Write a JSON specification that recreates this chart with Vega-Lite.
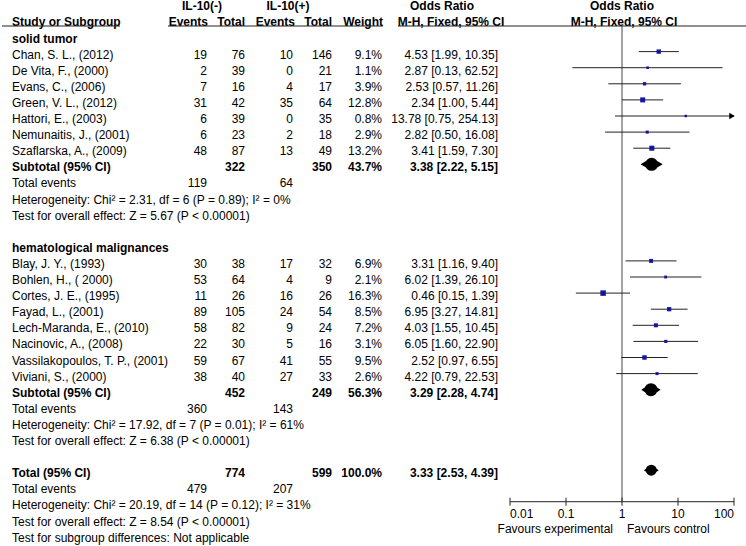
{
  "$schema": "https://vega.github.io/schema/vega-lite/v6.json",
  "width": 746,
  "height": 546,
  "autosize": {"type": "none"},
  "padding": 0,
  "background": "white",
  "config": {"view": {"stroke": null}},
  "datasets": {
    "rows": [
      {"row": 0, "label": "solid tumor", "kind": "group"},
      {"row": 1, "label": "Chan, S. L., (2012)", "kind": "study", "e1": 19, "n1": 76, "e2": 10, "n2": 146, "w": 0.091, "ort": "4.53 [1.99, 10.35]", "or": 4.53, "lo": 1.99, "hi": 10.35},
      {"row": 2, "label": "De Vita, F., (2000)", "kind": "study", "e1": 2, "n1": 39, "e2": 0, "n2": 21, "w": 0.011, "ort": "2.87 [0.13, 62.52]", "or": 2.87, "lo": 0.13, "hi": 62.52},
      {"row": 3, "label": "Evans, C., (2006)", "kind": "study", "e1": 7, "n1": 16, "e2": 4, "n2": 17, "w": 0.039, "ort": "2.53 [0.57, 11.26]", "or": 2.53, "lo": 0.57, "hi": 11.26},
      {"row": 4, "label": "Green, V. L., (2012)", "kind": "study", "e1": 31, "n1": 42, "e2": 35, "n2": 64, "w": 0.128, "ort": "2.34 [1.00, 5.44]", "or": 2.34, "lo": 1.0, "hi": 5.44},
      {"row": 5, "label": "Hattori, E., (2003)", "kind": "study", "e1": 6, "n1": 39, "e2": 0, "n2": 35, "w": 0.008, "ort": "13.78 [0.75, 254.13]", "or": 13.78, "lo": 0.75, "hi": 254.13},
      {"row": 6, "label": "Nemunaitis, J., (2001)", "kind": "study", "e1": 6, "n1": 23, "e2": 2, "n2": 18, "w": 0.029, "ort": "2.82 [0.50, 16.08]", "or": 2.82, "lo": 0.5, "hi": 16.08},
      {"row": 7, "label": "Szaflarska, A., (2009)", "kind": "study", "e1": 48, "n1": 87, "e2": 13, "n2": 49, "w": 0.132, "ort": "3.41 [1.59, 7.30]", "or": 3.41, "lo": 1.59, "hi": 7.3},
      {"row": 8, "label": "Subtotal (95% CI)", "kind": "subtotal", "n1": 322, "n2": 350, "w": 0.437, "ort": "3.38 [2.22, 5.15]", "or": 3.38, "lo": 2.22, "hi": 5.15},
      {"row": 9, "label": "Total events", "kind": "events", "e1": 119, "e2": 64},
      {"row": 10, "label": "Heterogeneity: Chi² = 2.31, df = 6 (P = 0.89); I² = 0%", "kind": "note"},
      {"row": 11, "label": "Test for overall effect: Z = 5.67 (P < 0.00001)", "kind": "note"},
      {"row": 13, "label": "hematological malignances", "kind": "group"},
      {"row": 14, "label": "Blay, J. Y., (1993)", "kind": "study", "e1": 30, "n1": 38, "e2": 17, "n2": 32, "w": 0.069, "ort": "3.31 [1.16, 9.40]", "or": 3.31, "lo": 1.16, "hi": 9.4},
      {"row": 15, "label": "Bohlen, H., ( 2000)", "kind": "study", "e1": 53, "n1": 64, "e2": 4, "n2": 9, "w": 0.021, "ort": "6.02 [1.39, 26.10]", "or": 6.02, "lo": 1.39, "hi": 26.1},
      {"row": 16, "label": "Cortes, J. E., (1995)", "kind": "study", "e1": 11, "n1": 26, "e2": 16, "n2": 26, "w": 0.163, "ort": "0.46 [0.15, 1.39]", "or": 0.46, "lo": 0.15, "hi": 1.39},
      {"row": 17, "label": "Fayad, L., (2001)", "kind": "study", "e1": 89, "n1": 105, "e2": 24, "n2": 54, "w": 0.085, "ort": "6.95 [3.27, 14.81]", "or": 6.95, "lo": 3.27, "hi": 14.81},
      {"row": 18, "label": "Lech-Maranda, E., (2010)", "kind": "study", "e1": 58, "n1": 82, "e2": 9, "n2": 24, "w": 0.072, "ort": "4.03 [1.55, 10.45]", "or": 4.03, "lo": 1.55, "hi": 10.45},
      {"row": 19, "label": "Nacinovic, A., (2008)", "kind": "study", "e1": 22, "n1": 30, "e2": 5, "n2": 16, "w": 0.031, "ort": "6.05 [1.60, 22.90]", "or": 6.05, "lo": 1.6, "hi": 22.9},
      {"row": 20, "label": "Vassilakopoulos, T. P., (2001)", "kind": "study", "e1": 59, "n1": 67, "e2": 41, "n2": 55, "w": 0.095, "ort": "2.52 [0.97, 6.55]", "or": 2.52, "lo": 0.97, "hi": 6.55},
      {"row": 21, "label": "Viviani, S., (2000)", "kind": "study", "e1": 38, "n1": 40, "e2": 27, "n2": 33, "w": 0.026, "ort": "4.22 [0.79, 22.53]", "or": 4.22, "lo": 0.79, "hi": 22.53},
      {"row": 22, "label": "Subtotal (95% CI)", "kind": "subtotal", "n1": 452, "n2": 249, "w": 0.563, "ort": "3.29 [2.28, 4.74]", "or": 3.29, "lo": 2.28, "hi": 4.74},
      {"row": 23, "label": "Total events", "kind": "events", "e1": 360, "e2": 143},
      {"row": 24, "label": "Heterogeneity: Chi² = 17.92, df = 7 (P = 0.01); I² = 61%", "kind": "note"},
      {"row": 25, "label": "Test for overall effect: Z = 6.38 (P < 0.00001)", "kind": "note"},
      {"row": 27, "label": "Total (95% CI)", "kind": "total", "n1": 774, "n2": 599, "w": 1.0, "ort": "3.33 [2.53, 4.39]", "or": 3.33, "lo": 2.53, "hi": 4.39},
      {"row": 28, "label": "Total events", "kind": "events", "e1": 479, "e2": 207},
      {"row": 29, "label": "Heterogeneity: Chi² = 20.19, df = 14 (P = 0.12); I² = 31%", "kind": "note"},
      {"row": 30, "label": "Test for overall effect: Z = 8.54 (P < 0.00001)", "kind": "note"},
      {"row": 31, "label": "Test for subgroup differences: Not applicable", "kind": "note"}
    ],
    "ticks": [
      {"v": 0.01, "lab": "0.01"},
      {"v": 0.1, "lab": "0.1"},
      {"v": 1, "lab": "1"},
      {"v": 10, "lab": "10"},
      {"v": 100, "lab": "100"}
    ],
    "one": [{}]
  },
  "resolve": {"scale": {"x": "independent", "size": "independent"}},
  "layer": [
    {
      "layer": [
        {"data": {"name": "rows"}, "transform": [{"filter": "indexof(['group','subtotal','total'], datum.kind) < 0"}],
         "mark": {"type": "text", "font": "Liberation Sans", "fontSize": 12, "baseline": "middle", "dy": 3, "align": "left", "color": "#000"},
         "encoding": {"x": {"datum": 12, "type": "quantitative", "scale": {"domain": [0, 746], "range": [0, 746], "nice": false, "zero": false}, "axis": null},
                      "y": {"field": "row", "type": "quantitative", "scale": {"domain": [-2.205, 31.708], "reverse": true, "nice": false, "zero": false}, "axis": null},
                      "text": {"field": "label"}}},
        {"data": {"name": "rows"}, "transform": [{"filter": "indexof(['group','subtotal','total'], datum.kind) >= 0"}],
         "mark": {"type": "text", "font": "Liberation Sans", "fontSize": 12, "fontWeight": "bold", "baseline": "middle", "dy": 3, "align": "left", "color": "#000"},
         "encoding": {"x": {"datum": 12, "type": "quantitative"}, "y": {"field": "row", "type": "quantitative"}, "text": {"field": "label"}}},
        {"data": {"name": "rows"}, "transform": [{"filter": "isValid(datum.e1)"}],
         "mark": {"type": "text", "font": "Liberation Sans", "fontSize": 12, "baseline": "middle", "dy": 3, "align": "right", "color": "#000"},
         "encoding": {"x": {"datum": 207, "type": "quantitative"}, "y": {"field": "row", "type": "quantitative"}, "text": {"field": "e1"}}},
        {"data": {"name": "rows"}, "transform": [{"filter": "isValid(datum.e2)"}],
         "mark": {"type": "text", "font": "Liberation Sans", "fontSize": 12, "baseline": "middle", "dy": 3, "align": "right", "color": "#000"},
         "encoding": {"x": {"datum": 293, "type": "quantitative"}, "y": {"field": "row", "type": "quantitative"}, "text": {"field": "e2"}}},
        {"data": {"name": "rows"}, "transform": [{"filter": "datum.kind == 'study'"}],
         "mark": {"type": "text", "font": "Liberation Sans", "fontSize": 12, "baseline": "middle", "dy": 3, "align": "right", "color": "#000"},
         "encoding": {"x": {"datum": 245, "type": "quantitative"}, "y": {"field": "row", "type": "quantitative"}, "text": {"field": "n1"}}},
        {"data": {"name": "rows"}, "transform": [{"filter": "datum.kind == 'subtotal' || datum.kind == 'total'"}],
         "mark": {"type": "text", "font": "Liberation Sans", "fontSize": 12, "fontWeight": "bold", "baseline": "middle", "dy": 3, "align": "right", "color": "#000"},
         "encoding": {"x": {"datum": 245, "type": "quantitative"}, "y": {"field": "row", "type": "quantitative"}, "text": {"field": "n1"}}},
        {"data": {"name": "rows"}, "transform": [{"filter": "datum.kind == 'study'"}],
         "mark": {"type": "text", "font": "Liberation Sans", "fontSize": 12, "baseline": "middle", "dy": 3, "align": "right", "color": "#000"},
         "encoding": {"x": {"datum": 332, "type": "quantitative"}, "y": {"field": "row", "type": "quantitative"}, "text": {"field": "n2"}}},
        {"data": {"name": "rows"}, "transform": [{"filter": "datum.kind == 'subtotal' || datum.kind == 'total'"}],
         "mark": {"type": "text", "font": "Liberation Sans", "fontSize": 12, "fontWeight": "bold", "baseline": "middle", "dy": 3, "align": "right", "color": "#000"},
         "encoding": {"x": {"datum": 332, "type": "quantitative"}, "y": {"field": "row", "type": "quantitative"}, "text": {"field": "n2"}}},
        {"data": {"name": "rows"}, "transform": [{"filter": "datum.kind == 'study'"}],
         "mark": {"type": "text", "font": "Liberation Sans", "fontSize": 12, "baseline": "middle", "dy": 3, "align": "right", "color": "#000"},
         "encoding": {"x": {"datum": 382, "type": "quantitative"}, "y": {"field": "row", "type": "quantitative"}, "text": {"field": "w", "type": "quantitative", "format": ".1%"}}},
        {"data": {"name": "rows"}, "transform": [{"filter": "datum.kind == 'subtotal' || datum.kind == 'total'"}],
         "mark": {"type": "text", "font": "Liberation Sans", "fontSize": 12, "fontWeight": "bold", "baseline": "middle", "dy": 3, "align": "right", "color": "#000"},
         "encoding": {"x": {"datum": 382, "type": "quantitative"}, "y": {"field": "row", "type": "quantitative"}, "text": {"field": "w", "type": "quantitative", "format": ".1%"}}},
        {"data": {"name": "rows"}, "transform": [{"filter": "datum.kind == 'study'"}],
         "mark": {"type": "text", "font": "Liberation Sans", "fontSize": 12, "baseline": "middle", "dy": 3, "align": "right", "color": "#000"},
         "encoding": {"x": {"datum": 498, "type": "quantitative"}, "y": {"field": "row", "type": "quantitative"}, "text": {"field": "ort"}}},
        {"data": {"name": "rows"}, "transform": [{"filter": "datum.kind == 'subtotal' || datum.kind == 'total'"}],
         "mark": {"type": "text", "font": "Liberation Sans", "fontSize": 12, "fontWeight": "bold", "baseline": "middle", "dy": 3, "align": "right", "color": "#000"},
         "encoding": {"x": {"datum": 498, "type": "quantitative"}, "y": {"field": "row", "type": "quantitative"}, "text": {"field": "ort"}}},
        {"data": {"name": "one"}, "mark": {"type": "text", "font": "Liberation Sans", "fontSize": 12, "fontWeight": "bold", "baseline": "middle", "dy": 3, "align": "center", "color": "#000", "text": "IL-10(-)"},
         "encoding": {"x": {"datum": 202, "type": "quantitative"}, "y": {"datum": -2, "type": "quantitative"}}},
        {"data": {"name": "one"}, "mark": {"type": "text", "font": "Liberation Sans", "fontSize": 12, "fontWeight": "bold", "baseline": "middle", "dy": 3, "align": "center", "color": "#000", "text": "IL-10(+)"},
         "encoding": {"x": {"datum": 288, "type": "quantitative"}, "y": {"datum": -2, "type": "quantitative"}}},
        {"data": {"name": "one"}, "mark": {"type": "text", "font": "Liberation Sans", "fontSize": 12, "fontWeight": "bold", "baseline": "middle", "dy": 3, "align": "center", "color": "#000", "text": "Odds Ratio"},
         "encoding": {"x": {"datum": 442, "type": "quantitative"}, "y": {"datum": -2, "type": "quantitative"}}},
        {"data": {"name": "one"}, "mark": {"type": "text", "font": "Liberation Sans", "fontSize": 12, "fontWeight": "bold", "baseline": "middle", "dy": 3, "align": "center", "color": "#000", "text": "Odds Ratio"},
         "encoding": {"x": {"datum": 622, "type": "quantitative"}, "y": {"datum": -2, "type": "quantitative"}}},
        {"data": {"name": "one"}, "mark": {"type": "text", "font": "Liberation Sans", "fontSize": 12, "fontWeight": "bold", "baseline": "middle", "dy": 3, "align": "left", "color": "#000", "text": "Study or Subgroup"},
         "encoding": {"x": {"datum": 12, "type": "quantitative"}, "y": {"datum": -1, "type": "quantitative"}}},
        {"data": {"name": "one"}, "mark": {"type": "text", "font": "Liberation Sans", "fontSize": 12, "fontWeight": "bold", "baseline": "middle", "dy": 3, "align": "right", "color": "#000", "text": "Events"},
         "encoding": {"x": {"datum": 208, "type": "quantitative"}, "y": {"datum": -1, "type": "quantitative"}}},
        {"data": {"name": "one"}, "mark": {"type": "text", "font": "Liberation Sans", "fontSize": 12, "fontWeight": "bold", "baseline": "middle", "dy": 3, "align": "right", "color": "#000", "text": "Total"},
         "encoding": {"x": {"datum": 245, "type": "quantitative"}, "y": {"datum": -1, "type": "quantitative"}}},
        {"data": {"name": "one"}, "mark": {"type": "text", "font": "Liberation Sans", "fontSize": 12, "fontWeight": "bold", "baseline": "middle", "dy": 3, "align": "right", "color": "#000", "text": "Events"},
         "encoding": {"x": {"datum": 295, "type": "quantitative"}, "y": {"datum": -1, "type": "quantitative"}}},
        {"data": {"name": "one"}, "mark": {"type": "text", "font": "Liberation Sans", "fontSize": 12, "fontWeight": "bold", "baseline": "middle", "dy": 3, "align": "right", "color": "#000", "text": "Total"},
         "encoding": {"x": {"datum": 332, "type": "quantitative"}, "y": {"datum": -1, "type": "quantitative"}}},
        {"data": {"name": "one"}, "mark": {"type": "text", "font": "Liberation Sans", "fontSize": 12, "fontWeight": "bold", "baseline": "middle", "dy": 3, "align": "right", "color": "#000", "text": "Weight"},
         "encoding": {"x": {"datum": 383, "type": "quantitative"}, "y": {"datum": -1, "type": "quantitative"}}},
        {"data": {"name": "one"}, "mark": {"type": "text", "font": "Liberation Sans", "fontSize": 12, "fontWeight": "bold", "baseline": "middle", "dy": 3, "align": "center", "color": "#000", "text": "M-H, Fixed, 95% CI"},
         "encoding": {"x": {"datum": 451, "type": "quantitative"}, "y": {"datum": -1, "type": "quantitative"}}},
        {"data": {"name": "one"}, "mark": {"type": "text", "font": "Liberation Sans", "fontSize": 12, "fontWeight": "bold", "baseline": "middle", "dy": 3, "align": "center", "color": "#000", "text": "M-H, Fixed, 95% CI"},
         "encoding": {"x": {"datum": 624, "type": "quantitative"}, "y": {"datum": -1, "type": "quantitative"}}},
        {"data": {"name": "one"}, "mark": {"type": "rule", "color": "#222", "strokeWidth": 1.2},
         "encoding": {"x": {"datum": 2, "type": "quantitative"}, "x2": {"datum": 120}, "y": {"datum": -0.59, "type": "quantitative"}}},
        {"data": {"name": "one"}, "mark": {"type": "rule", "color": "#222", "strokeWidth": 1.2},
         "encoding": {"x": {"datum": 168, "type": "quantitative"}, "x2": {"datum": 383}, "y": {"datum": -0.59, "type": "quantitative"}}},
        {"data": {"name": "one"}, "mark": {"type": "rule", "color": "#222", "strokeWidth": 1.2},
         "encoding": {"x": {"datum": 398, "type": "quantitative"}, "x2": {"datum": 746}, "y": {"datum": -0.59, "type": "quantitative"}}}
      ]
    },
    {
      "layer": [
        {"data": {"name": "one"}, "mark": {"type": "rule", "color": "#444", "strokeWidth": 1},
         "encoding": {"x": {"datum": 1, "type": "quantitative", "scale": {"type": "log", "domain": [0.01, 100], "range": [510, 734], "clamp": true, "nice": false}, "axis": null},
                      "y": {"datum": -0.59, "type": "quantitative"}, "y2": {"datum": 28.957}}},
        {"data": {"name": "one"}, "mark": {"type": "rule", "color": "#222", "strokeWidth": 1},
         "encoding": {"x": {"datum": 0.01, "type": "quantitative"}, "x2": {"datum": 100}, "y": {"datum": 28.957, "type": "quantitative"}}},
        {"data": {"name": "ticks"}, "mark": {"type": "rule", "color": "#222", "strokeWidth": 1},
         "encoding": {"x": {"field": "v", "type": "quantitative"}, "y": {"datum": 28.708, "type": "quantitative"}, "y2": {"datum": 29.205}}},
        {"data": {"name": "ticks"}, "transform": [{"filter": "datum.v > 0.05 && datum.v < 50"}],
         "mark": {"type": "text", "font": "Liberation Sans", "fontSize": 12, "baseline": "middle", "align": "center", "color": "#000"},
         "encoding": {"x": {"field": "v", "type": "quantitative"}, "y": {"datum": 29.72, "type": "quantitative"}, "text": {"field": "lab"}}},
        {"data": {"name": "ticks"}, "transform": [{"filter": "datum.v < 0.05"}],
         "mark": {"type": "text", "font": "Liberation Sans", "fontSize": 12, "baseline": "middle", "align": "left", "color": "#000"},
         "encoding": {"x": {"field": "v", "type": "quantitative"}, "y": {"datum": 29.72, "type": "quantitative"}, "text": {"field": "lab"}}},
        {"data": {"name": "ticks"}, "transform": [{"filter": "datum.v > 50"}],
         "mark": {"type": "text", "font": "Liberation Sans", "fontSize": 12, "baseline": "middle", "align": "right", "color": "#000"},
         "encoding": {"x": {"field": "v", "type": "quantitative"}, "y": {"datum": 29.72, "type": "quantitative"}, "text": {"field": "lab"}}},
        {"data": {"name": "one"}, "mark": {"type": "text", "font": "Liberation Sans", "fontSize": 12, "baseline": "middle", "align": "right", "dx": -9, "color": "#000", "text": "Favours experimental"},
         "encoding": {"x": {"datum": 1, "type": "quantitative"}, "y": {"datum": 30.65, "type": "quantitative"}}},
        {"data": {"name": "one"}, "mark": {"type": "text", "font": "Liberation Sans", "fontSize": 12, "baseline": "middle", "align": "left", "dx": 5, "color": "#000", "text": "Favours control"},
         "encoding": {"x": {"datum": 1, "type": "quantitative"}, "y": {"datum": 30.65, "type": "quantitative"}}},
        {"data": {"name": "rows"}, "transform": [{"filter": "datum.kind == 'study'"}],
         "mark": {"type": "rule", "color": "#222", "strokeWidth": 1},
         "encoding": {"x": {"field": "lo", "type": "quantitative"}, "x2": {"field": "hi"}, "y": {"field": "row", "type": "quantitative"}}},
        {"data": {"name": "rows"}, "transform": [{"filter": "datum.kind == 'study'"}],
         "mark": {"type": "point", "shape": "square", "filled": true, "color": "#1414a0", "opacity": 1},
         "encoding": {"x": {"field": "or", "type": "quantitative"}, "y": {"field": "row", "type": "quantitative"},
                      "size": {"field": "w", "type": "quantitative", "scale": {"domain": [0, 0.163], "range": [5, 30]}, "legend": null}}},
        {"data": {"name": "rows"}, "transform": [{"filter": "datum.kind == 'study' && datum.hi > 100"}],
         "mark": {"type": "point", "shape": "triangle-right", "filled": true, "color": "#000", "opacity": 1, "size": 40, "xOffset": -2},
         "encoding": {"x": {"field": "hi", "type": "quantitative"}, "y": {"field": "row", "type": "quantitative"}}}
      ]
    },
    {
      "resolve": {"scale": {"size": "independent"}},
      "layer": [
        {"data": {"name": "rows"}, "transform": [{"filter": "datum.kind == 'subtotal'"}, {"fold": ["lo", "or", "hi"], "as": ["k", "v"]}],
         "mark": {"type": "trail", "color": "#000"},
         "encoding": {"x": {"field": "v", "type": "quantitative", "scale": {"type": "log", "domain": [0.01, 100], "range": [510, 734], "clamp": true, "nice": false}, "axis": null},
                      "y": {"field": "row", "type": "quantitative"},
                      "detail": {"field": "row"},
                      "order": {"field": "v", "type": "quantitative"},
                      "size": {"field": "k", "type": "nominal", "scale": {"type": "ordinal", "domain": ["lo", "or", "hi"], "range": [0, 13, 0]}, "legend": null}}},
        {"data": {"name": "rows"}, "transform": [{"filter": "datum.kind == 'total'"}, {"fold": ["lo", "or", "hi"], "as": ["k", "v"]}],
         "mark": {"type": "trail", "color": "#000"},
         "encoding": {"x": {"field": "v", "type": "quantitative"},
                      "y": {"field": "row", "type": "quantitative"},
                      "detail": {"field": "row"},
                      "order": {"field": "v", "type": "quantitative"},
                      "size": {"field": "k", "type": "nominal", "scale": {"type": "ordinal", "domain": ["lo", "or", "hi"], "range": [0, 11, 0]}, "legend": null}}}
      ]
    }
  ]
}
